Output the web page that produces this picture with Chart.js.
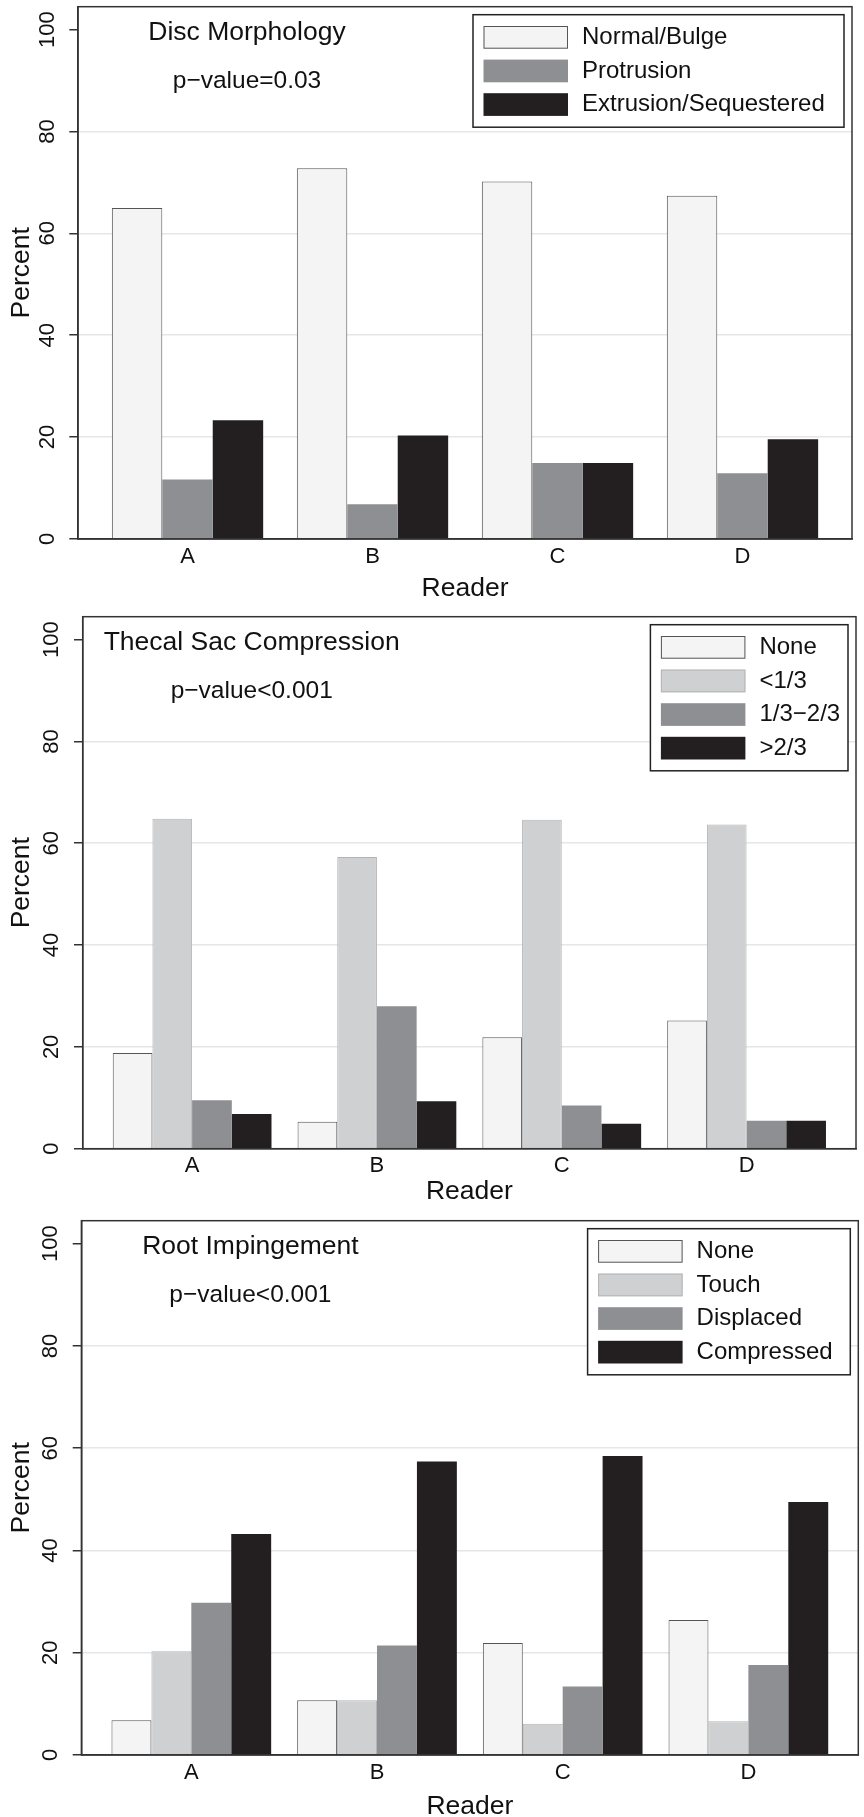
<!DOCTYPE html>
<html>
<head>
<meta charset="utf-8">
<script src="https://cdn.jsdelivr.net/npm/chart.js@4.4.1/dist/chart.umd.min.js"></script>
<style>
  html, body { margin: 0; padding: 0; background: #fff; }
  body { width: 864px; height: 1817px; position: relative; overflow: hidden; }
  canvas { position: absolute; left: 0; }
</style>
</head>
<body>
<canvas id="discChart" width="864" height="605" style="top:0px"></canvas>
<canvas id="thecalChart" width="864" height="605" style="top:605px"></canvas>
<canvas id="rootChart" width="864" height="620" style="top:1210px"></canvas>
<script>
// Три панели: морфология диска, компрессия дурального мешка, корешки

const readers = ['A', 'B', 'C', 'D'];
const yTicks = [0, 20, 40, 60, 80, 100];

const discLabels = ['Normal/Bulge', 'Protrusion', 'Extrusion/Sequestered'];
const discNormal = [65.0, 72.8, 70.2, 67.4];
const discProtrusion = [11.7, 6.8, 14.9, 12.9];
const discExtrusion = [23.3, 20.3, 14.9, 19.6];

const thecalLabels = ['None', '<1/3', '1/3\u22122/3', '>2/3'];
const thecalNone = [18.8, 5.3, 21.9, 25.2];
const thecalLow = [64.8, 57.3, 64.6, 63.7];
const thecalMid = [9.5, 28.0, 8.5, 5.5];
const thecalHigh = [6.8, 9.3, 4.9, 5.5];

const rootLabels = ['None', 'Touch', 'Displaced', 'Compressed'];
const rootNone = [6.8, 10.7, 21.9, 26.4];
const rootTouch = [20.3, 10.7, 6.1, 6.6];
const rootDisplaced = [29.8, 21.4, 13.4, 17.6];
const rootCompressed = [43.2, 57.4, 58.5, 49.5];

const FONT = "'Liberation Sans', Arial, Helvetica, sans-serif";
const WHITE = '#f4f4f4', LIGHT = '#cfd0d2', MID = '#8e8f93', BLACK = '#231f20';

// рамка, заголовок, p-value и легенда внутри области графика
const panelDecor = {
    id: 'panelDecor',
    afterDraw(chart, args, opts) {
        const { ctx, chartArea: a } = chart;
        ctx.save();
        ctx.strokeStyle = '#333';
        ctx.lineWidth = 1.5;
        ctx.strokeRect(a.left, a.top, a.right - a.left, a.bottom - a.top);

        ctx.fillStyle = '#111';
        ctx.textAlign = 'center';
        ctx.textBaseline = 'alphabetic';
        ctx.font = `26.5px ${FONT}`;
        ctx.fillText(opts.title, a.left + 169, a.top + 33);
        ctx.font = `24.5px ${FONT}`;
        ctx.textBaseline = 'middle';
        ctx.fillText(opts.pValue, a.left + 169, a.top + 75);

        const sets = chart.data.datasets;
        const boxW = opts.legendWidth;
        const boxH = 2 * 11.3 + (sets.length - 1) * 33.6 + 22.7;
        const bx = a.right - 8 - boxW, by = a.top + 8;
        ctx.fillStyle = '#fff';
        ctx.fillRect(bx, by, boxW, boxH);
        ctx.strokeStyle = '#222';
        ctx.lineWidth = 1.5;
        ctx.strokeRect(bx, by, boxW, boxH);
        ctx.font = `24px ${FONT}`;
        ctx.textAlign = 'left';
        sets.forEach((ds, i) => {
            const sy = by + 11.3 + i * 33.6;
            ctx.fillStyle = ds.backgroundColor;
            ctx.fillRect(bx + 10.5, sy, 84.5, 22.7);
            if (ds.borderWidth) {
                ctx.strokeStyle = ds.borderColor;
                ctx.lineWidth = 1;
                ctx.strokeRect(bx + 11, sy + 0.5, 83.5, 21.7);
            }
            ctx.fillStyle = '#111';
            ctx.fillText(ds.label, bx + 109, sy + 11.5);
        });
        ctx.restore();
    }
};

function makeChart(id, cfg) {
    const ctx = document.getElementById(id)?.getContext('2d');
    if (!ctx) return null;
    const axisHeight = cfg.canvasTop + cfg.height - cfg.axisY;
    const readerPad = axisHeight - (cfg.readerY - cfg.axisY) - 15.9;

    return new Chart(ctx, {
        type: 'bar',
        data: {
            datasets: cfg.series.map((s, k) => ({
                label: cfg.labels[k],
                data: s.map((v, i) => ({ x: i, y: v })),
                backgroundColor: cfg.fills[k],
                borderColor: cfg.borders[k] || cfg.fills[k],
                borderWidth: cfg.borders[k] ? 1 : 0,
                borderSkipped: 'bottom',
                categoryPercentage: cfg.groupShare,
                barPercentage: 1
            }))
        },
        options: {
            responsive: false,
            animation: false,
            events: [],
            layout: {
                padding: { left: 0, right: 864 - cfg.frameRight, top: cfg.frameTop - cfg.canvasTop, bottom: 0 }
            },
            plugins: {
                legend: { display: false },
                tooltip: { enabled: false },
                panelDecor: { title: cfg.title, pValue: cfg.pValue, legendWidth: cfg.legendWidth }
            },
            scales: {
                x: {
                    type: 'linear',
                    min: -0.592,
                    max: 3.592,
                    offset: false,
                    afterBuildTicks: s => { s.ticks = readers.map((r, i) => ({ value: i })); },
                    afterFit: s => { s.height = axisHeight; },
                    grid: { display: false, drawTicks: false },
                    border: { display: true, color: '#333', width: 1.5 },
                    ticks: {
                        callback: v => readers[v],
                        padding: 4.3,
                        maxRotation: 0,
                        autoSkip: false,
                        color: '#111',
                        font: { family: FONT, size: 22 }
                    },
                    title: {
                        display: true,
                        text: 'Reader',
                        color: '#111',
                        font: { family: FONT, size: 26.5 },
                        padding: { top: 0, bottom: readerPad }
                    }
                },
                y: {
                    type: 'linear',
                    min: 0,
                    max: 104.5,
                    afterBuildTicks: s => { s.ticks = yTicks.map(v => ({ value: v })); },
                    afterFit: s => {
                        s.width = cfg.frameLeft;
                        s.paddingTop = 0;
                        s.paddingBottom = 0;
                    },
                    grid: {
                        color: c => (c.tick && (c.tick.value === 0 || c.tick.value === 100)) ? 'rgba(0,0,0,0)' : '#e6e6e6',
                        lineWidth: 1.5,
                        drawTicks: true,
                        tickLength: 8.7,
                        tickColor: '#333',
                        tickWidth: 1.5
                    },
                    border: { display: true, color: '#333', width: 1.5 },
                    ticks: {
                        minRotation: 90,
                        maxRotation: 90,
                        crossAlign: 'center',
                        padding: 3.5,
                        color: '#111',
                        font: { family: FONT, size: 22 }
                    },
                    title: {
                        display: true,
                        text: 'Percent',
                        color: '#111',
                        font: { family: FONT, size: 26.5 },
                        padding: { top: 5.5, bottom: 0 }
                    }
                }
            }
        },
        plugins: [panelDecor]
    });
}

document.addEventListener('DOMContentLoaded', function() {
    makeChart('discChart', {
        canvasTop: 0, height: 605,
        frameLeft: 78, frameRight: 852, frameTop: 6.7, axisY: 539, readerY: 589,
        title: 'Disc Morphology', pValue: 'p\u2212value=0.03', legendWidth: 371,
        labels: discLabels,
        series: [discNormal, discProtrusion, discExtrusion],
        fills: [WHITE, MID, BLACK],
        borders: ['#555', null, null],
        groupShare: 0.818
    });
    makeChart('thecalChart', {
        canvasTop: 605, height: 605,
        frameLeft: 82.7, frameRight: 856, frameTop: 616.7, axisY: 1148.7, readerY: 1192,
        title: 'Thecal Sac Compression', pValue: 'p\u2212value<0.001', legendWidth: 197.6,
        labels: thecalLabels,
        series: [thecalNone, thecalLow, thecalMid, thecalHigh],
        fills: [WHITE, LIGHT, MID, BLACK],
        borders: ['#555', '#b3b4b6', null, null],
        groupShare: 0.859
    });
    makeChart('rootChart', {
        canvasTop: 1210, height: 620,
        frameLeft: 81.4, frameRight: 858.3, frameTop: 1220.7, axisY: 1755, readerY: 1806.7,
        title: 'Root Impingement', pValue: 'p\u2212value<0.001', legendWidth: 262.7,
        labels: rootLabels,
        series: [rootNone, rootTouch, rootDisplaced, rootCompressed],
        fills: [WHITE, LIGHT, MID, BLACK],
        borders: ['#555', '#b3b4b6', null, null],
        groupShare: 0.86
    });
});
</script>
</body>
</html>
